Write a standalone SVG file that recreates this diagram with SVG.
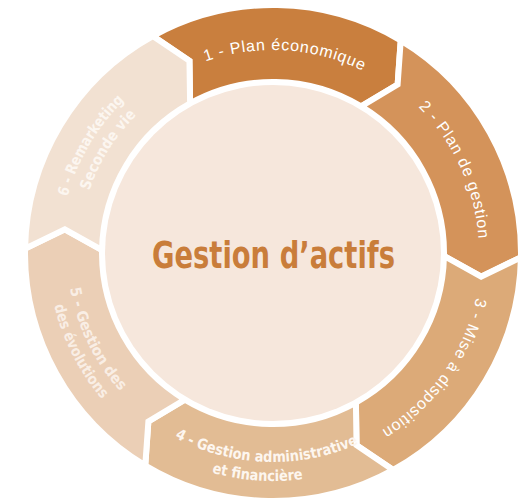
<svg xmlns="http://www.w3.org/2000/svg" width="529" height="501" viewBox="0 0 529 501">
  <style>
    .seg { stroke: #ffffff; stroke-width: 6; stroke-linejoin: miter; }
    .lbl-a { font-family: "Liberation Sans", Arial, sans-serif; font-size: 16px; fill: #ffffff; letter-spacing: 0.8px; }
    .lbl-b { font-family: "Liberation Sans Narrow", "DejaVu Sans Condensed", "Liberation Sans", sans-serif; font-weight: bold; font-size: 15px; }
    .title { font-family: "Liberation Sans Narrow", "DejaVu Sans Condensed", "Liberation Sans", sans-serif; font-weight: bold; font-size: 38px; fill: #c97d3a; }
  </style>
  <defs>
    <path id="p1" d="M125.75,113.26 A203,203 0 0 1 436.18,132.25"/>
    <path id="p2" d="M328.05,54.49 A206,206 0 0 1 458.93,341.69"/>
    <path id="p3" d="M474.38,200.92 A208,208 0 0 1 289.32,460.36"/>
    <path id="p4a" d="M108.31,381.67 A209,209 0 0 0 428.32,392.85"/>
    <path id="p4b" d="M88.54,387.02 A228,228 0 0 0 437.01,411.38"/>
    <path id="p5a" d="M84.81,169.21 A206,206 0 0 0 223.16,452.88"/>
    <path id="p5b" d="M65.89,165.09 A225,225 0 0 0 222.39,472.23"/>
    <path id="p6a" d="M72.22,324.10 A213,213 0 0 1 237.84,42.92"/>
    <path id="p6b" d="M88.49,312.95 A194,194 0 0 1 246.00,60.89"/>
  </defs>
  <rect x="0" y="0" width="529" height="501" fill="#ffffff"/>

  <g id="node-1">
    <path class="seg" fill="#c97f3e" d="M152.77,36.09 A248,248 0 0 1 400.73,40.42 L397.61,84.59 L361.07,106.42 A171,171 0 0 0 190.10,103.44 L189.46,60.88 Z"/>
    <text class="lbl-a"><textPath href="#p1" startOffset="50%" text-anchor="middle">1 - Plan économique</textPath></text>
  </g>
  <g id="node-2">
    <path class="seg" fill="#d4935a" d="M400.73,40.42 A248,248 0 0 1 520.96,257.33 L481.15,276.72 L443.97,255.98 A171,171 0 0 0 361.07,106.42 L397.61,84.59 Z"/>
    <text class="lbl-a"><textPath href="#p2" startOffset="50%" text-anchor="middle">2 - Plan de gestion</textPath></text>
  </g>
  <g id="node-3">
    <path class="seg" fill="#dcaa78" d="M520.96,257.33 A248,248 0 0 1 393.23,469.91 L356.54,445.12 L355.90,402.56 A171,171 0 0 0 443.97,255.98 L481.15,276.72 Z"/>
    <text class="lbl-a"><textPath href="#p3" startOffset="50%" text-anchor="middle">3 - Mise à disposition</textPath></text>
  </g>
  <g id="node-4">
    <path class="seg" fill="#e2bc94" d="M393.23,469.91 A248,248 0 0 1 145.27,465.58 L148.39,421.41 L184.93,399.58 A171,171 0 0 0 355.90,402.56 L356.54,445.12 Z"/>
    <text class="lbl-b" fill="#fdf6ef"><textPath href="#p4a" startOffset="50%" text-anchor="middle" textLength="190" lengthAdjust="spacingAndGlyphs">4 - Gestion administrative</textPath></text>
    <text class="lbl-b" fill="#fdf6ef"><textPath href="#p4b" startOffset="50%" text-anchor="middle" textLength="92" lengthAdjust="spacingAndGlyphs">et financière</textPath></text>
  </g>
  <g id="node-5">
    <path class="seg" fill="#ebcfb6" d="M145.27,465.58 A248,248 0 0 1 25.04,248.67 L64.85,229.28 L102.03,250.02 A171,171 0 0 0 184.93,399.58 L148.39,421.41 Z"/>
    <text class="lbl-b" fill="#f9eee5"><textPath href="#p5a" startOffset="50%" text-anchor="middle" textLength="116" lengthAdjust="spacingAndGlyphs">5 - Gestion des</textPath></text>
    <text class="lbl-b" fill="#f9eee5"><textPath href="#p5b" startOffset="50%" text-anchor="middle" textLength="106" lengthAdjust="spacingAndGlyphs">des évolutions</textPath></text>
  </g>
  <g id="node-6">
    <path class="seg" fill="#f2e1d2" d="M25.04,248.67 A248,248 0 0 1 152.77,36.09 L189.46,60.88 L190.10,103.44 A171,171 0 0 0 102.03,250.02 L64.85,229.28 Z"/>
    <text class="lbl-b" fill="#fcf6f0"><textPath href="#p6a" startOffset="50%" text-anchor="middle" textLength="113" lengthAdjust="spacingAndGlyphs">6 - Remarketing</textPath></text>
    <text class="lbl-b" fill="#fcf6f0"><textPath href="#p6b" startOffset="50%" text-anchor="middle" textLength="90" lengthAdjust="spacingAndGlyphs">Seconde vie</textPath></text>
  </g>

  <g id="node-center">
    <circle cx="273" cy="253" r="168" fill="#f6e7dc"/>
    <text class="title" x="273.5" y="268" text-anchor="middle" textLength="243" lengthAdjust="spacingAndGlyphs">Gestion d’actifs</text>
  </g>
</svg>
